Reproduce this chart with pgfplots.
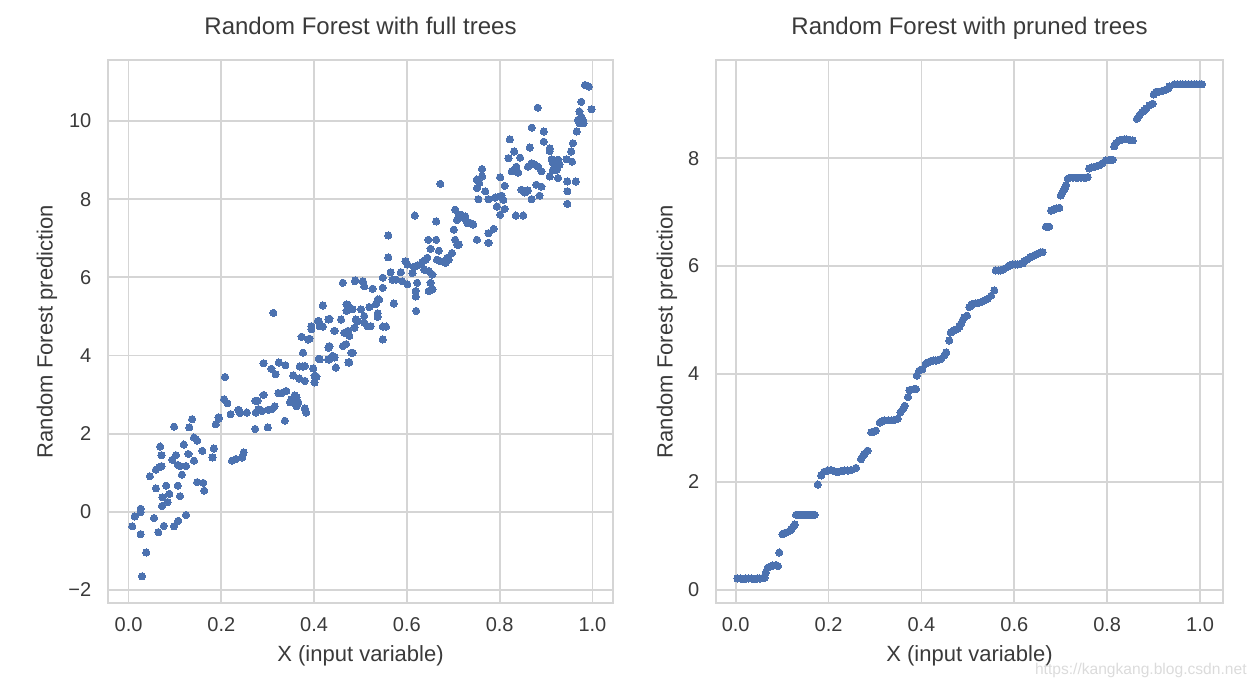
\documentclass[border=0pt]{standalone}
\usepackage{fontspec}
\setmainfont{Liberation Sans}
\usepackage{pgfplots}
\pgfplotsset{compat=1.18}
\definecolor{pt}{HTML}{4C72B0}
\definecolor{gridc}{HTML}{D5D5D5}
\definecolor{txt}{HTML}{3A3A3A}
\pgfplotsset{
  sbstyle/.style={
    scale only axis, height=271.65pt,
    axis line style={gridc, line width=0.9pt},
    grid=major, major grid style={gridc, line width=0.9pt},
    major tick length=0pt,
    tick label style={font=\fontsize{10}{12}\selectfont, text=txt},
    label style={font=\fontsize{11}{13}\selectfont, text=txt},
    title style={font=\fontsize{12}{14}\selectfont, text=txt, at={(0.5,1)}, anchor=base, yshift=6.65pt},
    xtick={0,0.2,0.4,0.6,0.8,1.0},
    xticklabels={0.0,0.2,0.4,0.6,0.8,1.0},
    xticklabel style={inner sep=0pt, anchor=north, yshift=-7pt},
    yticklabel style={inner sep=0pt, anchor=east, xshift=-8pt},
    xlabel style={at={(axis description cs:0.5,0)}, anchor=base, yshift=-29pt},
    xlabel={X (input variable)},
    ylabel={Random Forest prediction},
    clip=false,
  },
  dots/.style={only marks, color=pt, mark=*, mark size=1.8pt, mark options={draw=pt, fill=pt, line width=0pt}},
}
\begin{document}
\begin{tikzpicture}
\useasboundingbox (0,0) rectangle (628pt,344pt);
\begin{axis}[sbstyle, at={(53.85pt,42.35pt)}, anchor=south west, width=252.8pt,
  xmin=-0.045, xmax=1.045, ymin=-2.34, ymax=11.56,
  ytick={-2,0,2,4,6,8,10}, yticklabels={−2,0,2,4,6,8,10},
  ylabel style={at={(axis description cs:0,0.5)}, anchor=center, yshift=30.35pt},
  title={Random Forest with full trees}]
\addplot[dots] table {
0.029 -1.65
0.038 -1.04
0.008 -0.37
0.026 -0.57
0.013 -0.12
0.026 0.08
0.026 -0.01
0.055 -0.16
0.064 -0.52
0.076 -0.36
0.098 -0.37
0.107 -0.23
0.124 -0.08
0.072 0.15
0.081 0.67
0.059 0.60
0.106 0.67
0.111 0.40
0.073 0.37
0.084 0.25
0.088 0.46
0.046 0.91
0.059 1.08
0.066 1.14
0.071 1.17
0.068 1.67
0.071 1.45
0.094 1.33
0.102 1.45
0.106 1.20
0.111 1.17
0.115 0.95
0.124 1.17
0.129 1.48
0.119 1.72
0.098 2.18
0.131 2.16
0.137 2.37
0.141 1.90
0.148 1.82
0.145 1.86
0.141 1.31
0.159 1.56
0.148 0.76
0.161 0.74
0.163 0.54
0.184 1.62
0.181 1.39
0.188 2.24
0.195 2.39
0.206 2.88
0.213 2.78
0.220 2.50
0.223 1.31
0.231 1.35
0.245 1.39
0.248 1.52
0.238 2.58
0.255 2.54
0.273 2.12
0.273 2.84
0.291 2.99
0.300 2.16
0.288 2.58
0.309 2.63
0.312 5.09
0.208 3.45
0.194 2.42
0.237 2.61
0.240 2.53
0.278 2.84
0.274 2.54
0.280 2.63
0.301 2.61
0.315 2.70
0.337 2.33
0.323 3.04
0.330 3.04
0.340 3.09
0.348 2.80
0.351 2.88
0.358 2.98
0.362 2.93
0.366 2.80
0.362 2.70
0.380 2.65
0.383 2.54
0.291 3.80
0.308 3.66
0.317 3.52
0.324 3.82
0.338 3.75
0.355 3.49
0.368 3.41
0.380 3.35
0.369 3.72
0.376 3.72
0.376 4.07
0.373 4.48
0.390 4.43
0.394 4.75
0.394 4.67
0.398 3.67
0.405 3.46
0.401 3.31
0.410 4.88
0.419 5.28
0.419 4.74
0.431 4.92
0.410 3.92
0.431 4.20
0.432 3.89
0.444 4.63
0.447 3.69
0.444 3.95
0.458 4.92
0.462 4.24
0.470 5.31
0.470 5.14
0.476 4.50
0.473 4.63
0.483 4.07
0.474 3.82
0.462 5.86
0.488 5.90
0.505 5.90
0.508 5.77
0.501 5.18
0.494 4.88
0.508 5.01
0.515 4.75
0.483 5.18
0.672 8.39
0.617 7.58
0.560 7.07
0.560 6.51
0.663 7.43
0.646 6.96
0.663 6.96
0.651 6.73
0.669 6.68
0.704 7.73
0.712 7.60
0.722 7.52
0.730 7.39
0.708 7.47
0.701 7.22
0.704 6.96
0.708 6.84
0.697 6.62
0.690 6.45
0.683 6.41
0.672 6.41
0.665 6.45
0.597 6.41
0.601 6.33
0.615 6.27
0.622 6.30
0.633 6.39
0.640 6.45
0.644 6.50
0.637 6.20
0.647 6.16
0.655 6.07
0.651 5.86
0.647 5.65
0.655 5.69
0.612 6.11
0.622 5.86
0.619 5.65
0.619 5.51
0.620 5.14
0.601 5.82
0.587 6.13
0.590 5.90
0.576 5.94
0.565 6.13
0.569 5.94
0.548 5.99
0.548 5.73
0.537 5.43
0.572 5.33
0.526 5.71
0.533 5.31
0.489 5.92
0.473 5.28
0.480 5.20
0.519 5.24
0.540 5.43
0.537 5.08
0.537 4.99
0.548 4.74
0.555 4.74
0.548 4.41
0.522 4.75
0.508 4.84
0.490 4.92
0.487 4.71
0.465 4.58
0.469 4.29
0.480 4.07
0.433 4.94
0.433 4.24
0.412 4.75
0.408 4.88
0.387 4.41
0.412 3.90
0.430 3.90
0.440 3.99
0.476 3.82
0.401 3.48
0.380 3.73
0.984 10.92
0.992 10.88
0.976 10.49
0.998 10.30
0.972 10.24
0.976 10.11
0.979 10.03
0.972 9.94
0.981 9.94
0.969 10.03
0.966 9.73
0.958 9.43
0.954 9.22
0.956 8.96
0.944 9.02
0.964 8.45
0.946 8.45
0.946 8.20
0.946 7.88
0.882 10.34
0.869 9.83
0.895 9.73
0.895 9.47
0.908 9.30
0.908 9.23
0.865 9.32
0.822 9.53
0.831 9.22
0.844 9.06
0.819 9.05
0.912 9.02
0.915 8.92
0.919 8.83
0.923 8.75
0.929 8.88
0.926 9.01
0.915 8.75
0.908 8.58
0.926 8.54
0.890 8.71
0.883 8.83
0.876 8.88
0.861 8.83
0.869 8.92
0.836 8.83
0.840 8.68
0.826 8.71
0.801 8.56
0.811 8.34
0.879 8.37
0.890 8.32
0.886 8.09
0.869 8.00
0.861 8.22
0.847 8.24
0.854 8.17
0.762 8.77
0.762 8.58
0.751 8.50
0.756 8.41
0.751 8.28
0.769 8.20
0.754 8.00
0.776 8.00
0.790 8.04
0.801 8.07
0.808 7.98
0.804 8.09
0.794 7.81
0.801 7.60
0.811 7.75
0.835 7.58
0.851 7.58
0.787 7.24
0.776 7.13
0.776 6.88
0.751 6.96
0.743 7.35
0.737 7.39
0.726 7.56
0.717 7.60
0.733 7.39
0.712 6.84
0.687 6.50
0.683 6.37
};
\end{axis}
\begin{axis}[sbstyle, at={(357.85pt,42.35pt)}, anchor=south west, width=253.8pt,
  xmin=-0.043, xmax=1.05, ymin=-0.25, ymax=9.82,
  ytick={0,2,4,6,8}, yticklabels={0,2,4,6,8},
  ylabel style={at={(axis description cs:0,0.5)}, anchor=center, yshift=24.35pt},
  title={Random Forest with pruned trees}]
\addplot[dots] table {
0.004 0.21
0.010 0.21
0.016 0.20
0.022 0.21
0.028 0.21
0.034 0.21
0.040 0.20
0.046 0.21
0.052 0.21
0.058 0.22
0.062 0.22
0.065 0.32
0.069 0.41
0.074 0.43
0.080 0.45
0.087 0.46
0.091 0.44
0.094 0.69
0.101 1.03
0.105 1.05
0.108 1.06
0.116 1.09
0.120 1.12
0.123 1.16
0.127 1.21
0.130 1.39
0.135 1.39
0.140 1.39
0.145 1.39
0.150 1.39
0.155 1.39
0.160 1.39
0.165 1.39
0.170 1.39
0.177 1.95
0.184 2.12
0.191 2.19
0.198 2.21
0.205 2.22
0.212 2.20
0.220 2.18
0.227 2.20
0.234 2.21
0.241 2.21
0.249 2.22
0.259 2.26
0.270 2.42
0.274 2.48
0.277 2.52
0.284 2.58
0.292 2.92
0.297 2.93
0.302 2.95
0.310 3.10
0.315 3.12
0.320 3.14
0.328 3.14
0.335 3.14
0.342 3.15
0.349 3.17
0.355 3.29
0.360 3.35
0.364 3.41
0.371 3.57
0.374 3.70
0.378 3.71
0.384 3.72
0.388 3.72
0.390 3.97
0.395 4.06
0.402 4.09
0.409 4.19
0.415 4.22
0.420 4.24
0.426 4.25
0.431 4.25
0.436 4.26
0.442 4.28
0.449 4.34
0.453 4.40
0.460 4.62
0.463 4.77
0.467 4.79
0.470 4.81
0.474 4.82
0.478 4.84
0.482 4.88
0.485 4.93
0.489 5.00
0.492 5.05
0.498 5.08
0.503 5.24
0.507 5.27
0.510 5.30
0.517 5.31
0.523 5.32
0.528 5.33
0.535 5.36
0.542 5.39
0.550 5.45
0.557 5.55
0.560 5.92
0.566 5.92
0.571 5.92
0.578 5.95
0.586 5.99
0.591 6.01
0.596 6.03
0.602 6.03
0.607 6.03
0.612 6.04
0.618 6.05
0.621 6.09
0.625 6.11
0.629 6.13
0.634 6.16
0.639 6.18
0.645 6.21
0.650 6.23
0.656 6.25
0.661 6.26
0.668 6.73
0.672 6.73
0.675 6.73
0.679 7.03
0.683 7.04
0.686 7.05
0.690 7.07
0.697 7.08
0.700 7.31
0.704 7.37
0.708 7.43
0.711 7.50
0.715 7.62
0.720 7.64
0.726 7.64
0.732 7.64
0.738 7.64
0.744 7.64
0.750 7.64
0.755 7.64
0.758 7.65
0.761 7.81
0.767 7.83
0.772 7.84
0.777 7.85
0.783 7.87
0.790 7.91
0.797 7.96
0.805 7.97
0.812 7.97
0.815 8.22
0.819 8.28
0.826 8.33
0.831 8.34
0.837 8.35
0.842 8.35
0.848 8.34
0.855 8.33
0.864 8.73
0.869 8.79
0.876 8.86
0.880 8.89
0.884 8.92
0.891 8.98
0.898 9.01
0.900 9.18
0.905 9.23
0.910 9.23
0.916 9.24
0.923 9.26
0.931 9.29
0.934 9.33
0.945 9.37
0.951 9.37
0.957 9.37
0.963 9.37
0.969 9.37
0.975 9.37
0.981 9.37
0.987 9.37
0.993 9.37
0.999 9.37
1.004 9.37
};
\end{axis}
\node[anchor=base east, text=black!14, font=\fontsize{7.8}{9}\selectfont, inner sep=0pt] at (623.5pt,6.5pt) {https://kangkang.blog.csdn.net};
\end{tikzpicture}
\end{document}
